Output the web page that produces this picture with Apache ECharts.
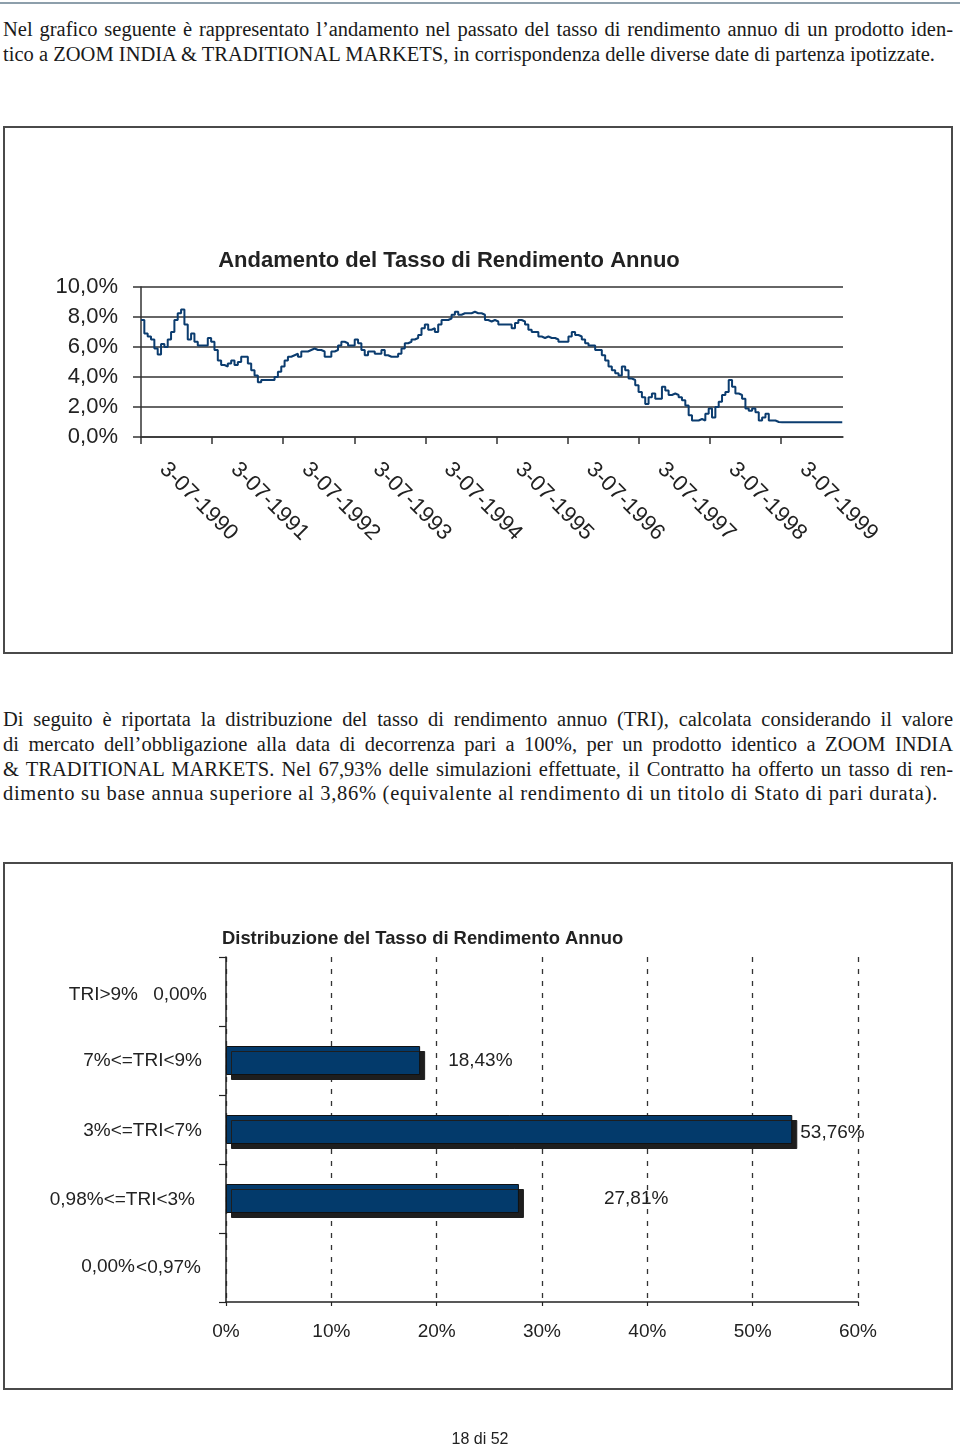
<!DOCTYPE html>
<html>
<head>
<meta charset="utf-8">
<script src="https://cdn.jsdelivr.net/npm/echarts@6/dist/echarts.min.js"></script>
<style>
html, body { margin: 0; padding: 0; background: #fff; }
#page { position: relative; width: 960px; height: 1446px; overflow: hidden; background: #fff; }
.rule { position: absolute; left: 0; top: 2px; width: 960px; height: 2px; background: #8d9fab; }
.ln { position: absolute; left: 3px; width: 950px; font-family: 'Liberation Serif', 'Times New Roman', serif; font-size: 20.5px; line-height: 25px; color: #1a1a1a; white-space: nowrap; }
.box { position: absolute; left: 3px; width: 950px; height: 528px; border: 2px solid #4a4a4a; box-sizing: border-box; }
#chart { position: absolute; left: 0; top: 0; width: 960px; height: 1446px; }
#foot { position: absolute; left: 0; width: 960px; top: 1430px; text-align: center; font: 16px 'Liberation Sans', Arial, sans-serif; color: #222; }
</style>
</head>
<body>
<div id="page">
  <div class="rule"></div>
  <div class="ln j" data-w="950" style="top:17px"><span>Nel grafico seguente è rappresentato l’andamento nel passato del tasso di rendimento annuo di un prodotto iden-</span></div>
  <div class="ln s" data-w="932" style="top:42px"><span>tico a ZOOM INDIA &amp; TRADITIONAL MARKETS, in corrispondenza delle diverse date di partenza ipotizzate.</span></div>
  <div class="box" style="top:126px"></div>
  <div class="ln j" data-w="950" style="top:707px"><span>Di seguito è riportata la distribuzione del tasso di rendimento annuo (TRI), calcolata considerando il valore</span></div>
  <div class="ln j" data-w="950" style="top:732px"><span>di mercato dell’obbligazione alla data di decorrenza pari a 100%, per un prodotto identico a ZOOM INDIA</span></div>
  <div class="ln j" data-w="950" style="top:757px"><span>&amp; TRADITIONAL MARKETS. Nel 67,93% delle simulazioni effettuate, il Contratto ha offerto un tasso di ren-</span></div>
  <div class="ln s" data-w="935" style="top:781px"><span>dimento su base annua superiore al 3,86% (equivalente al rendimento di un titolo di Stato di pari durata).</span></div>
  <div class="box" style="top:862px"></div>
  <div id="chart"></div>
  <div id="foot">18 di 52</div>
</div>
<script>
// ---------- DATA ----------
const lineTitle = 'Andamento del Tasso di Rendimento Annuo';
const barTitle = 'Distribuzione del Tasso di Rendimento Annuo';

// x axis: years from 3-07-1990; one tick per year
const tickYears = [1990, 1991, 1992, 1993, 1994, 1995, 1996, 1997, 1998, 1999];
const axisEndYears = 9.87;          // axis length in years
const sampleStepYears = 0.04695;    // spacing of the samples

// annual rate of return (%) at regular sample dates
const rateValues = [
  7.8, 6.9, 6.7, 6.5, 5.9, 5.5, 6.2, 6.0, 6.5, 7.0,
  7.8, 8.25, 8.5, 7.5, 6.5, 6.9, 6.35, 6.1, 6.1, 6.1,
  6.6, 6.35, 5.8, 5.1, 4.8, 4.7, 4.9, 5.1, 4.8, 5.0,
  5.35, 5.35, 4.9, 4.45, 4.1, 3.65, 3.8, 3.8, 3.8, 3.8,
  4.0, 4.35, 4.7, 5.1, 5.35, 5.45, 5.55, 5.35, 5.7, 5.7,
  5.8, 5.9, 5.8, 5.8, 5.7, 5.35, 5.35, 5.7, 5.8, 6.1,
  6.35, 6.25, 6.1, 6.1, 6.5, 6.25, 5.8, 5.45, 5.7, 5.7,
  5.55, 5.55, 5.8, 5.45, 5.35, 5.35, 5.35, 5.55, 5.9, 6.25,
  6.35, 6.5, 6.6, 6.8, 7.25, 7.5, 7.15, 7.25, 7.0, 7.5,
  7.8, 7.8, 7.9, 8.15, 8.35, 8.15, 8.25, 8.25, 8.25, 8.35,
  8.25, 8.25, 8.15, 7.8, 7.7,
  7.8, 7.7, 7.5, 7.5, 7.5, 7.5, 7.25, 7.6, 7.8, 7.7,
  7.5, 7.15, 7.0, 7.0, 6.7, 6.6, 6.7, 6.6, 6.6, 6.5,
  6.35, 6.35, 6.35, 6.7, 7.0, 6.8, 6.7, 6.5, 6.25, 6.1,
  6.1, 5.8, 5.8, 5.45, 5.1, 4.7, 4.45, 4.25, 4.1, 4.7,
  4.45, 3.9, 3.8, 3.45, 3.0, 2.65, 2.2, 2.65, 2.9, 2.55,
  2.55, 3.35, 3.1, 2.8, 2.9, 2.8, 2.65, 2.45, 2.1, 1.45,
  1.1, 1.1, 1.2, 1.1, 1.55, 1.9, 1.3, 2.0, 2.35, 2.8,
  3.0, 3.8, 3.35, 2.9, 2.8, 2.55, 1.9, 1.75, 1.9, 1.65,
  1.1, 1.3, 1.55, 1.1, 1.1, 1.0,
  0.98, 0.98, 0.98, 0.98, 0.98, 0.98, 0.98, 0.98, 0.98, 0.98,
  0.98, 0.98, 0.98, 0.98, 0.98, 0.98, 0.98, 0.98, 0.98, 0.98
];

// distribution of the annual rate of return (TRI)
const distCategories = ['TRI>9%', '7%<=TRI<9%', '3%<=TRI<7%', '0,98%<=TRI<3%', '<0,97%'];
const distValues = [0.00, 18.43, 53.76, 27.81, 0.00];

// ---------- STYLE (label placement) ----------
const valueLabelStyles = [
  { position: 'left', distance: 19, offset: [0, 3] },
  { position: 'right', distance: 28, offset: [0, 0] },
  { position: 'right', distance: 8, offset: [0, 3] },
  { position: 'right', distance: 85, offset: [0, 0] },
  { position: 'left', distance: 91, offset: [0, -1] }
];
const catLabelPadding = [[6, 64, 0, 0], [0, 0, 0, 0], [3, 0, 0, 0], [3, 7, 0, 0], [1, 1, 0, 0]];

// ---------- fit serif lines ----------
document.querySelectorAll('.ln').forEach(function (el) {
  const span = el.firstElementChild;
  const target = parseFloat(el.getAttribute('data-w'));
  const w = span.getBoundingClientRect().width;
  if (el.classList.contains('j')) {
    const n = (span.textContent.match(/ /g) || []).length;
    span.style.wordSpacing = ((target - w) / n) + 'px';
  } else {
    const n = span.textContent.length;
    span.style.letterSpacing = ((target - w) / n) + 'px';
  }
});

// ---------- CHART ----------
const SANS = "'Liberation Sans', Arial, Helvetica, sans-serif";
const INK = '#222';
const fmtPct1 = v => v.toFixed(1).replace('.', ',') + '%';
const fmtPct2 = v => v.toFixed(2).replace('.', ',') + '%';

const tickOffsets = tickYears.map(y => y - tickYears[0]);
const lineData = rateValues.map((v, i) => [i * sampleStepYears, v]);

const rich = {};
catLabelPadding.forEach((p, i) => { rich['c' + i] = { padding: p, fontSize: 19, fontFamily: SANS, color: INK }; });

const barData = distValues.map((v, i) => {
  const item = { value: v, label: Object.assign({ show: true }, valueLabelStyles[i]) };
  if (v === 0) item.itemStyle = { color: 'transparent', borderWidth: 0, shadowColor: 'transparent' };
  return item;
});

const chart = echarts.init(document.getElementById('chart'), null, { renderer: 'canvas' });
chart.setOption({
  animation: false,
  backgroundColor: 'transparent',
  title: [
    { text: lineTitle, left: 449, top: 250, textAlign: 'center', padding: 0,
      textStyle: { fontFamily: SANS, fontSize: 22, fontWeight: 'bold', color: INK } },
    { text: barTitle, left: 222, top: 930, padding: 0,
      textStyle: { fontFamily: SANS, fontSize: 18.4, fontWeight: 'bold', color: INK } }
  ],
  grid: [
    { left: 141, top: 287, width: 702, height: 150, containLabel: false },
    { left: 226, top: 957, width: 632, height: 345, containLabel: false }
  ],
  xAxis: [
    {
      gridIndex: 0, type: 'value', min: 0, max: axisEndYears,
      axisLine: { show: true, lineStyle: { color: '#333', width: 1.5 } },
      axisTick: { show: true, length: 7, customValues: tickOffsets, lineStyle: { color: '#333', width: 1.5 } },
      axisLabel: {
        customValues: tickOffsets.map(t => t + 0.31),
        rotate: -45, margin: 29, fontSize: 22, fontFamily: SANS, color: INK,
        formatter: v => '3-07-' + tickYears[Math.floor(v)]
      },
      splitLine: { show: false }
    },
    {
      gridIndex: 1, type: 'value', min: 0, max: 60, interval: 10,
      axisLine: { show: true, lineStyle: { color: '#222', width: 1.5 } },
      axisTick: { show: true, length: 4, lineStyle: { color: '#222', width: 1.2 } },
      axisLabel: { margin: 20, fontSize: 19, fontFamily: SANS, color: INK, formatter: '{value}%' },
      splitLine: { show: true, lineStyle: { color: '#333', width: 1.3, type: [5, 7] } }
    }
  ],
  yAxis: [
    {
      gridIndex: 0, type: 'value', min: 0, max: 10, interval: 2,
      axisLine: { show: true, lineStyle: { color: '#333', width: 1.5 } },
      axisTick: { show: true, length: 8, lineStyle: { color: '#333', width: 1.5 } },
      axisLabel: { margin: 23, fontSize: 22, fontFamily: SANS, color: INK, formatter: fmtPct1 },
      splitLine: { show: true, lineStyle: { color: '#333', width: 1.5 } }
    },
    {
      gridIndex: 1, type: 'category', inverse: true, data: distCategories,
      axisLine: { show: true, lineStyle: { color: '#222', width: 1.5 } },
      axisTick: { show: true, length: 7, lineStyle: { color: '#222', width: 1.2 } },
      axisLabel: {
        margin: 24, fontSize: 19, fontFamily: SANS, color: INK,
        formatter: (v, i) => '{c' + i + '|' + v + '}', rich: rich
      },
      splitLine: { show: false }
    }
  ],
  series: [
    {
      type: 'line', xAxisIndex: 0, yAxisIndex: 0, data: lineData,
      step: 'end', showSymbol: false, symbol: 'none',
      lineStyle: { color: '#0b3c6f', width: 2 }, z: 5
    },
    {
      type: 'bar', xAxisIndex: 1, yAxisIndex: 1, data: barData, barWidth: 29,
      itemStyle: {
        color: '#033a6b', borderColor: '#111', borderWidth: 1,
        shadowColor: '#1e1e1e', shadowBlur: 0, shadowOffsetX: 5, shadowOffsetY: 5
      },
      label: { show: true, fontSize: 19, fontFamily: SANS, color: INK, formatter: p => fmtPct2(p.value) }
    }
  ]
});
</script>
</body>
</html>
